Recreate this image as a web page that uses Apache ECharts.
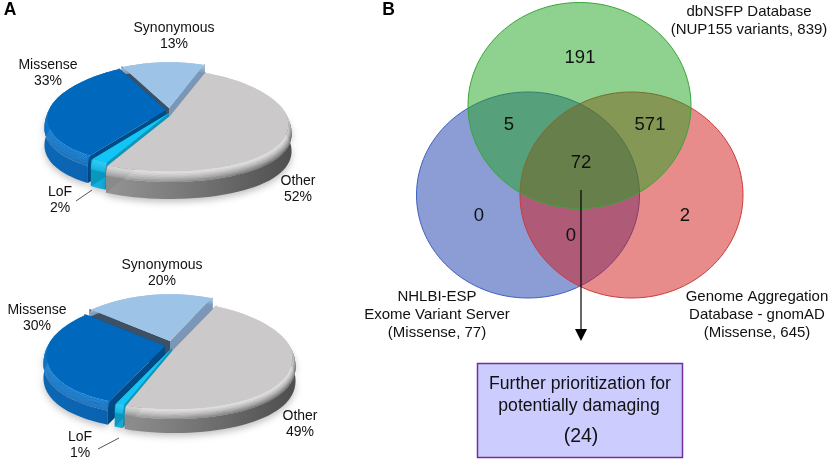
<!DOCTYPE html>
<html><head><meta charset="utf-8">
<style>html,body{margin:0;padding:0;background:#fff}#c{width:829px;height:461px}</style>
<script src="https://cdn.jsdelivr.net/npm/echarts@6/dist/echarts.min.js"></script>
</head><body><div id="c"></div>
<script>
// ---- data ----
const pieCategories = ['Other', 'LoF', 'Missense', 'Synonymous'];
const pieTopValues = [52, 2, 33, 13];
const pieBottomValues = [49, 1, 30, 20];
const vennSetNames = ['NHLBI-ESP\nExome Variant Server\n(Missense, 77)', 'Genome Aggregation\nDatabase - gnomAD\n(Missense, 645)', 'dbNSFP Database\n(NUP155 variants, 839)'];
const vennCounts = [191, 5, 571, 72, 0, 0, 2];
const resultLines = ['Further prioritization for', 'potentially damaging', '(24)'];

// ---- style / layout ----
const FONT = '"Liberation Sans", Arial, sans-serif';
const sliceStyles = {
  Other: {face:'#cbc9c9', rim:'#dcdbdb', wall:['#a8a8a8','#7a7a7a','#4f4f4f'], cutStart:'#8a8a8a', cutEnd:'#8a8a8a'},
  LoF: {face:'#12c5f5', rim:'#2ccff7', wall:['#12aede','#12aede','#12aede'], cutStart:'#0a97bd', cutEnd:'#0a97bd'},
  Missense: {face:'#0069bd', rim:'#0f78cc', wall:['#0b66b4','#0a5ea8','#0a5596'], cutStart:'#004a85', cutEnd:'#004a85'},
  Synonymous: {face:'#9dc3e6', rim:'#a9cbe9', wall:['#7a97b8','#7a97b8','#7a97b8'], cutStart:'#3d5166', cutEnd:'#7a97b8'}
};
const drawOrder = ['Synonymous', 'Missense', 'LoF', 'Other'];
const pieLayouts = [
  {cx:170, cy:113, rx:120, ryBack:47, ryFront:57, k:0.16, depth:26, bevel:9, start:20,
   offsets:{Other:[0,3], LoF:[-1,0], Missense:[-4,-3], Synonymous:[-1,-5]},
   labels:{Other:[298,189], LoF:[60,200], Missense:[48,73], Synonymous:[174,36]},
   leader:[[76,201],[92,190]]},
  {cx:171, cy:347, rx:120, ryBack:48, ryFront:62, k:0.16, depth:22, bevel:8, start:24,
   offsets:{Other:[3,2], LoF:[1,1], Missense:[-6,-1], Synonymous:[-1,-6]},
   labels:{Other:[300,424], LoF:[80,445], Missense:[37,318], Synonymous:[162,273]},
   leader:[[98,449],[119,438]]}
];
const vennEllipses = [
  {cx:528, cy:195, rx:111.5, ry:103, fill:'rgba(25,59,173,0.5)', stroke:'#3f5fc0', label:[437,315]},
  {cx:631.5, cy:195, rx:111.5, ry:103, fill:'rgba(209,23,23,0.5)', stroke:'#d03a3a', label:[757,315]},
  {cx:579.5, cy:105.5, rx:111.5, ry:103, fill:'rgba(32,163,32,0.5)', stroke:'#3aa53a', label:[749,21]}
];
const vennCountPos = [[580,58],[509,125],[650,125],[581,163],[479,216],[571,236],[685,216]];
const box = {x:477.5, y:363.5, w:205, h:94};
const resultPos = [[580,384],[579,406],[581,437]];

function hex(c){return [1,3,5].map(i=>parseInt(c.substr(i,2),16));}
function mix(a,b,t){const A=hex(a),B=hex(b);return 'rgb('+A.map((v,i)=>Math.round(v+(B[i]-v)*t)).join(',')+')';}
function text(x,y,str,size,extra){
  return {type:'text',silent:true,style:Object.assign({x:x,y:y,text:str,fill:'#111',font:size+'px '+FONT,fontSize:size,fontFamily:'Liberation Sans',align:'center',verticalAlign:'middle',textAlign:'center',textVerticalAlign:'middle'},extra||{})};
}

function pieRender(values, L){
  const total = values.reduce((a,b)=>a+b,0);
  let a = L.start; const sectors = {};
  pieCategories.forEach((n,i)=>{const sw=values[i]/total*360; sectors[n]={a0:a,a1:a+sw}; a+=sw;});
  return function(params){
    const name = drawOrder[params.dataIndex];
    const sec = sectors[name], st = sliceStyles[name], off = L.offsets[name];
    const P = (deg,r,z)=>{
      const t=deg*Math.PI/180, u=r*Math.sin(t), v=r*Math.cos(t), s=1/(1+L.k*v);
      return [L.cx+off[0]+L.rx*u*s, L.cy+off[1]-(v>0?L.ryBack:L.ryFront)*v+z];
    };
    const arc=(r,z,rev)=>{const pts=[];const n=60;for(let i=0;i<=n;i++){pts.push(P(sec.a0+(sec.a1-sec.a0)*i/n,r,z));}return rev?pts.reverse():pts;};
    const hGrad=(stops)=>({type:'linear',global:true,x:L.cx-L.rx,y:0,x2:L.cx+L.rx,y2:0,colorStops:[{offset:0,color:stops[0]},{offset:.55,color:stops[1]},{offset:1,color:stops[2]}]});
    const children=[];
    // outer wall
    children.push({type:'polygon',shape:{points:arc(1,L.bevel,false).concat(arc(1,L.depth,true))},style:{fill:hGrad(st.wall),shadowBlur:7,shadowColor:'rgba(0,0,0,0.25)',shadowOffsetY:3}});
    // cut faces
    const cut=(deg,color)=>{const A=[L.cx+off[0],L.cy+off[1]];const E=P(deg,1,0),E2=P(deg,1,L.depth);
      children.push({type:'polygon',shape:{points:[A,E,E2,[A[0],A[1]+L.depth]]},style:{fill:color}});};
    cut(sec.a0,st.cutStart); cut(sec.a1,st.cutEnd);
    // bevel rim, painted as many thin bands so it reads as a smooth curve
    const bands=18, inner=0.975;
    for(let b=bands-1;b>=0;b--){
      const t0=b/bands,t1=(b+1)/bands+0.03;
      const r0=inner+(1-inner)*Math.sin(t0*Math.PI/2),r1=inner+(1-inner)*Math.sin(Math.min(t1,1)*Math.PI/2);
      const stops=st.wall.map(w=>mix(st.rim,w,Math.pow(t0,1.2)));
      children.push({type:'polygon',shape:{points:arc(r0,L.bevel*t0,false).concat(arc(r1,L.bevel*Math.min(t1,1),true))},style:{fill:hGrad(stops)}});
    }
    // top face
    children.push({type:'polygon',shape:{points:[[L.cx+off[0],L.cy+off[1]]].concat(arc(inner,0,false))},style:{fill:st.face}});
    return {type:'group',children:children,silent:true};
  };
}
function pieSeries(values,L){
  return {type:'custom',coordinateSystem:'none',silent:true,animation:false,clip:false,
    data:drawOrder.map(n=>values[pieCategories.indexOf(n)]),renderItem:pieRender(values,L)};
}
function pieLabels(values,L){
  return {type:'custom',coordinateSystem:'none',silent:true,animation:false,z:5,
    data:pieCategories.map((n,i)=>values[i]),
    renderItem:function(p){
      const n=pieCategories[p.dataIndex],pos=L.labels[n];
      const children=[text(pos[0],pos[1],n+'\n'+values[p.dataIndex]+'%',14,{lineHeight:16.5})];
      if(n==='LoF'){children.push({type:'line',shape:{x1:L.leader[0][0],y1:L.leader[0][1],x2:L.leader[1][0],y2:L.leader[1][1]},style:{stroke:'#555',lineWidth:1}});}
      return {type:'group',children:children,silent:true};
    }};
}

const option = {
  animation:false,
  backgroundColor:'#ffffff',
  series:[
    pieSeries(pieTopValues,pieLayouts[0]), pieSeries(pieBottomValues,pieLayouts[1]),
    pieLabels(pieTopValues,pieLayouts[0]), pieLabels(pieBottomValues,pieLayouts[1]),
    {type:'custom',coordinateSystem:'none',silent:true,animation:false,z:3,data:vennSetNames,
     renderItem:function(p){const e=vennEllipses[p.dataIndex];
       return {type:'group',silent:true,children:[
         {type:'ellipse',shape:{cx:e.cx,cy:e.cy,rx:e.rx,ry:e.ry},style:{fill:e.fill,stroke:e.stroke,lineWidth:1}},
       ]};}},
    {type:'custom',coordinateSystem:'none',silent:true,animation:false,z:6,data:vennSetNames,
     renderItem:function(p){const e=vennEllipses[p.dataIndex];
       return text(e.label[0],e.label[1],vennSetNames[p.dataIndex],15,{lineHeight:18});}},
    {type:'custom',coordinateSystem:'none',silent:true,animation:false,z:7,data:[0],
     renderItem:function(){
       return {type:'group',silent:true,children:[
         {type:'line',shape:{x1:581,y1:190,x2:581,y2:331},style:{stroke:'#000',lineWidth:1.2}},
         {type:'polygon',shape:{points:[[575,329],[587,329],[581,341]]},style:{fill:'#000'}}
       ]};}},
    {type:'custom',coordinateSystem:'none',silent:true,animation:false,z:8,data:vennCounts,
     renderItem:function(p){const q=vennCountPos[p.dataIndex];return text(q[0],q[1],String(vennCounts[p.dataIndex]),18.5);}},
    {type:'custom',coordinateSystem:'none',silent:true,animation:false,z:8,data:resultLines,
     renderItem:function(p){
       const q=resultPos[p.dataIndex];
       const t=text(q[0],q[1],resultLines[p.dataIndex],p.dataIndex===2?19.5:17.6);
       if(p.dataIndex!==0) return t;
       return {type:'group',silent:true,children:[
         {type:'rect',shape:{x:box.x,y:box.y,width:box.w,height:box.h},style:{fill:'#ccccff',stroke:'#7030a0',lineWidth:1.5},z2:0},
         Object.assign(t,{z2:2})]};
     }},
    {type:'custom',coordinateSystem:'none',silent:true,animation:false,z:9,data:['A','B'],
     renderItem:function(p){const x=p.dataIndex?388.5:10;return text(x,10,p.dataIndex?'B':'A',17.5,{font:'bold 17.5px '+FONT,fontWeight:'bold',fill:'#000'});}}
  ]
};
const chart = echarts.init(document.getElementById('c'),null,{renderer:'canvas',width:829,height:461});
chart.setOption(option);
</script></body></html>
